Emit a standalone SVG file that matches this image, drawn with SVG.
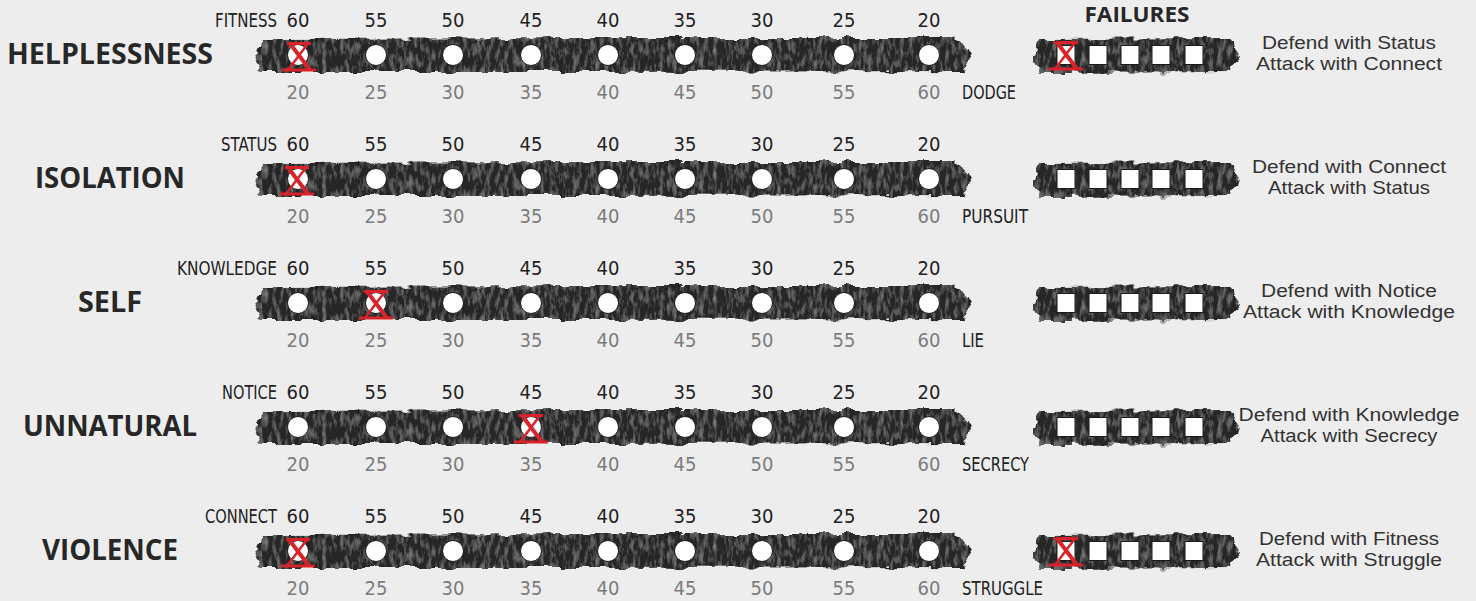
<svg xmlns="http://www.w3.org/2000/svg" xmlns:xlink="http://www.w3.org/1999/xlink" width="1476" height="601" viewBox="0 0 1476 601">
<defs>
<style>
.title{font-family:"Open Sans","Noto Sans","Liberation Sans",sans-serif;font-weight:700;font-size:29px;fill:#272727;text-anchor:middle}
.num{font-family:"DejaVu Sans Condensed","Liberation Sans Narrow","Liberation Sans",sans-serif;font-size:20px;fill:#222;text-anchor:middle}
.num2{font-family:"DejaVu Sans Condensed","Liberation Sans Narrow","Liberation Sans",sans-serif;font-size:20px;fill:#7c7c7c;text-anchor:middle}
.lab{font-family:"DejaVu Sans Condensed","Liberation Sans Narrow","Liberation Sans",sans-serif;font-size:20px;fill:#222}
.desc{font-family:"Liberation Sans",Arial,sans-serif;font-size:18px;fill:#333;text-anchor:middle}
.head{font-family:"Open Sans","Noto Sans","Liberation Sans",sans-serif;font-weight:700;font-size:21px;fill:#272727;text-anchor:middle}
.hole{fill:#fff;stroke:#1a1a1a;stroke-width:1}
.sq{fill:#fff;stroke:#1a1a1a;stroke-width:1}
.band{fill:#272727}
.xm{stroke:#d8232a;fill:none;stroke-linecap:butt}
</style>
<filter id="pencil" x="-5%" y="-60%" width="110%" height="220%">
<feTurbulence type="fractalNoise" baseFrequency="0.07 0.15" numOctaves="2" seed="4" result="n"/>
<feDisplacementMap in="SourceGraphic" in2="n" scale="10" xChannelSelector="R" yChannelSelector="G" result="d"/>
<feTurbulence type="fractalNoise" baseFrequency="0.22 0.08" numOctaves="3" seed="9" result="t"/>
<feColorMatrix in="t" type="matrix" values="0 0 0 0 0.7  0 0 0 0 0.7  0 0 0 0 0.7  0.6 0 0 0 -0.27" result="ta"/>
<feComposite in="ta" in2="d" operator="in" result="tex"/>
<feMerge><feMergeNode in="d"/><feMergeNode in="tex"/></feMerge>
</filter>
<path id="track" d="M262,-16 L600,-17 L955,-17 L972,-2 L962,16 L600,17 L262,17 L255,4 Z"/>
<path id="fail" d="M1038,-16 L1230,-17 L1238,0 L1230,17 L1040,18 L1034,2 Z"/>
<g id="xmark" class="xm">
<path d="M-12,-12.5 H12" stroke-width="3"/>
<path d="M-17,14 H17" stroke-width="3"/>
<path d="M-9,-12.5 L11,14" stroke-width="4"/>
<path d="M9,-12.5 L-11,14" stroke-width="2.5"/>
</g>
<g id="holes">
<circle class="hole" cx="298" cy="0" r="10.5"/>
<circle class="hole" cx="376" cy="0" r="10.5"/>
<circle class="hole" cx="453" cy="0" r="10.5"/>
<circle class="hole" cx="531" cy="0" r="10.5"/>
<circle class="hole" cx="608" cy="0" r="10.5"/>
<circle class="hole" cx="685" cy="0" r="10.5"/>
<circle class="hole" cx="762" cy="0" r="10.5"/>
<circle class="hole" cx="844" cy="0" r="10.5"/>
<circle class="hole" cx="929" cy="0" r="10.5"/>
</g>
<g id="squares">
<rect class="sq" x="1057" y="-9.5" width="18" height="19"/>
<rect class="sq" x="1089" y="-9.5" width="18" height="19"/>
<rect class="sq" x="1121" y="-9.5" width="18" height="19"/>
<rect class="sq" x="1152" y="-9.5" width="18" height="19"/>
<rect class="sq" x="1185" y="-9.5" width="18" height="19"/>
</g>
<g id="topnums">
<text class="num" x="298" y="0">60</text>
<text class="num" x="376" y="0">55</text>
<text class="num" x="453" y="0">50</text>
<text class="num" x="531" y="0">45</text>
<text class="num" x="608" y="0">40</text>
<text class="num" x="685" y="0">35</text>
<text class="num" x="762" y="0">30</text>
<text class="num" x="844" y="0">25</text>
<text class="num" x="929" y="0">20</text>
</g>
<g id="botnums">
<text class="num2" x="298" y="0">20</text>
<text class="num2" x="376" y="0">25</text>
<text class="num2" x="453" y="0">30</text>
<text class="num2" x="531" y="0">35</text>
<text class="num2" x="608" y="0">40</text>
<text class="num2" x="685" y="0">45</text>
<text class="num2" x="762" y="0">50</text>
<text class="num2" x="844" y="0">55</text>
<text class="num2" x="929" y="0">60</text>
</g>
</defs>
<rect width="1476" height="601" fill="#ededed"/>
<text class="head" x="1137" y="22" textLength="105" lengthAdjust="spacingAndGlyphs">FAILURES</text>

<g id="row-helplessness" transform="translate(0,55)">
<use xlink:href="#track" class="band" filter="url(#pencil)"/>
<use xlink:href="#fail" class="band" filter="url(#pencil)"/>
<use xlink:href="#holes"/>
<use xlink:href="#squares"/>
<use xlink:href="#xmark" x="299" y="1"/>
<use xlink:href="#xmark" x="1066" y="0"/>
<use xlink:href="#topnums" y="-28"/>
<use xlink:href="#botnums" y="44"/>
<text class="title" x="110" y="9" textLength="206" lengthAdjust="spacingAndGlyphs">HELPLESSNESS</text>
<text class="lab" x="277" y="-28" text-anchor="end" textLength="62" lengthAdjust="spacingAndGlyphs">FITNESS</text>
<text class="lab" x="962" y="44" textLength="54" lengthAdjust="spacingAndGlyphs">DODGE</text>
<text class="desc" x="1349" y="-6" textLength="174" lengthAdjust="spacingAndGlyphs">Defend with Status</text>
<text class="desc" x="1349" y="15" textLength="186" lengthAdjust="spacingAndGlyphs">Attack with Connect</text>
</g>

<g id="row-isolation" transform="translate(0,179)">
<use xlink:href="#track" class="band" filter="url(#pencil)"/>
<use xlink:href="#fail" class="band" filter="url(#pencil)"/>
<use xlink:href="#holes"/>
<use xlink:href="#squares"/>
<use xlink:href="#xmark" x="297" y="1"/>
<use xlink:href="#topnums" y="-28"/>
<use xlink:href="#botnums" y="44"/>
<text class="title" x="110" y="9" textLength="150" lengthAdjust="spacingAndGlyphs">ISOLATION</text>
<text class="lab" x="277" y="-28" text-anchor="end" textLength="56" lengthAdjust="spacingAndGlyphs">STATUS</text>
<text class="lab" x="962" y="44" textLength="66" lengthAdjust="spacingAndGlyphs">PURSUIT</text>
<text class="desc" x="1349" y="-6" textLength="194" lengthAdjust="spacingAndGlyphs">Defend with Connect</text>
<text class="desc" x="1349" y="15" textLength="162" lengthAdjust="spacingAndGlyphs">Attack with Status</text>
</g>

<g id="row-self" transform="translate(0,303)">
<use xlink:href="#track" class="band" filter="url(#pencil)"/>
<use xlink:href="#fail" class="band" filter="url(#pencil)"/>
<use xlink:href="#holes"/>
<use xlink:href="#squares"/>
<use xlink:href="#xmark" x="376" y="1"/>
<use xlink:href="#topnums" y="-28"/>
<use xlink:href="#botnums" y="44"/>
<text class="title" x="110" y="9" textLength="64" lengthAdjust="spacingAndGlyphs">SELF</text>
<text class="lab" x="277" y="-28" text-anchor="end" textLength="100" lengthAdjust="spacingAndGlyphs">KNOWLEDGE</text>
<text class="lab" x="962" y="44" textLength="22" lengthAdjust="spacingAndGlyphs">LIE</text>
<text class="desc" x="1349" y="-6" textLength="176" lengthAdjust="spacingAndGlyphs">Defend with Notice</text>
<text class="desc" x="1349" y="15" textLength="212" lengthAdjust="spacingAndGlyphs">Attack with Knowledge</text>
</g>

<g id="row-unnatural" transform="translate(0,427)">
<use xlink:href="#track" class="band" filter="url(#pencil)"/>
<use xlink:href="#fail" class="band" filter="url(#pencil)"/>
<use xlink:href="#holes"/>
<use xlink:href="#squares"/>
<use xlink:href="#xmark" x="531" y="1"/>
<use xlink:href="#topnums" y="-28"/>
<use xlink:href="#botnums" y="44"/>
<text class="title" x="110" y="9" textLength="174" lengthAdjust="spacingAndGlyphs">UNNATURAL</text>
<text class="lab" x="277" y="-28" text-anchor="end" textLength="55" lengthAdjust="spacingAndGlyphs">NOTICE</text>
<text class="lab" x="962" y="44" textLength="67" lengthAdjust="spacingAndGlyphs">SECRECY</text>
<text class="desc" x="1349" y="-6" textLength="221" lengthAdjust="spacingAndGlyphs">Defend with Knowledge</text>
<text class="desc" x="1349" y="15" textLength="177" lengthAdjust="spacingAndGlyphs">Attack with Secrecy</text>
</g>

<g id="row-violence" transform="translate(0,551)">
<use xlink:href="#track" class="band" filter="url(#pencil)"/>
<use xlink:href="#fail" class="band" filter="url(#pencil)"/>
<use xlink:href="#holes"/>
<use xlink:href="#squares"/>
<use xlink:href="#xmark" x="298" y="1"/>
<use xlink:href="#xmark" x="1066" y="0"/>
<use xlink:href="#topnums" y="-28"/>
<use xlink:href="#botnums" y="44"/>
<text class="title" x="110" y="9" textLength="136" lengthAdjust="spacingAndGlyphs">VIOLENCE</text>
<text class="lab" x="277" y="-28" text-anchor="end" textLength="72" lengthAdjust="spacingAndGlyphs">CONNECT</text>
<text class="lab" x="962" y="44" textLength="81" lengthAdjust="spacingAndGlyphs">STRUGGLE</text>
<text class="desc" x="1349" y="-6" textLength="180" lengthAdjust="spacingAndGlyphs">Defend with Fitness</text>
<text class="desc" x="1349" y="15" textLength="186" lengthAdjust="spacingAndGlyphs">Attack with Struggle</text>
</g>
</svg>
